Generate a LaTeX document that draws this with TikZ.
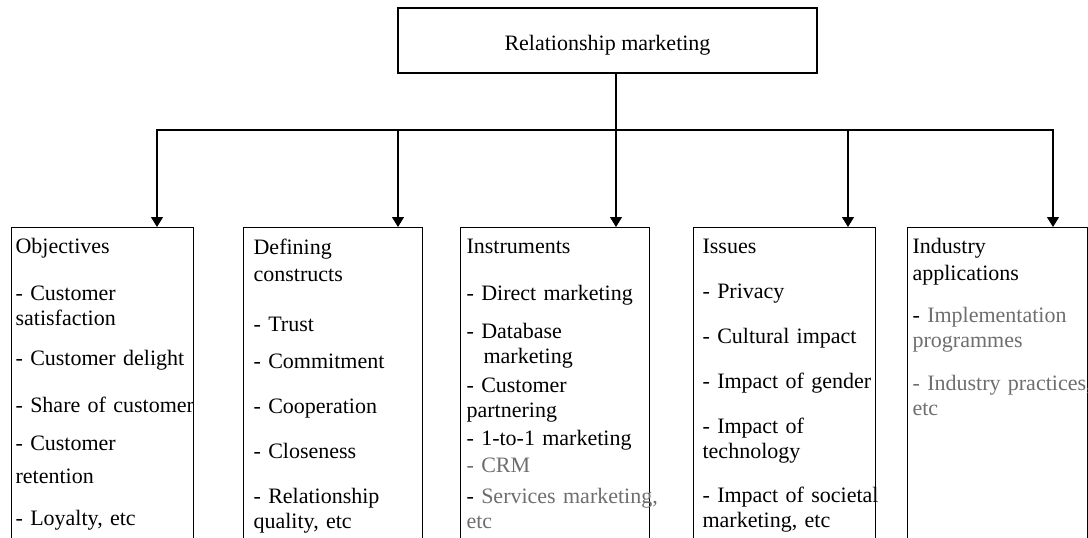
\documentclass[tikz,border=0pt]{standalone}
\usepackage{fontspec}
\setmainfont{Liberation Serif}
\usetikzlibrary{arrows.meta}
\definecolor{softgray}{RGB}{110,110,110}

\begin{document}
\begin{tikzpicture}[
		x=1pt, y=-1pt,
		line width=1.2pt,
		every node/.style={font=\fontsize{22}{25}\selectfont},
		relbox/.style={draw, rectangle, minimum width=419pt, minimum height=65pt,
			text height=19pt, text depth=0pt, inner sep=0pt},
		catbox/.style={draw, rectangle, anchor=north west, minimum height=340pt, inner sep=0pt},
		listtxt/.style={anchor=north west, align=left, text width=210pt, inner sep=0pt},
		arr/.style={-{Triangle[width=12pt, length=10pt]}}
	]
  \useasboundingbox (0,0) rectangle (1088,538);
  \clip (0,0) rectangle (1088,538);

  \node (rm) [relbox] at (607.5,40.5) {Relationship marketing};

  \node (obj) [catbox, minimum width=182pt] at (11,227) {};
  \node (def) [catbox, minimum width=179pt] at (243,227) {};
  \node (ins) [catbox, minimum width=189pt] at (460,227) {};
  \node (iss) [catbox, minimum width=182pt] at (693,227) {};
  \node (ind) [catbox, minimum width=180pt] at (907,227) {};

  \node (obj_txt) [listtxt] at (15,238) {Objectives\\[22pt] - Customer\\ satisfaction\\[15pt]
    - Customer delight\\[22pt] - Share of customer\\[13pt] - Customer\\[8pt] retention\\[17pt]
    - Loyalty, etc};
  \node (def_txt) [listtxt] at (253,238) {Defining\\[2pt] constructs\\[25pt] - Trust\\[12pt]
    - Commitment\\[20pt] - Cooperation\\[20pt] - Closeness\\[20pt] - Relationship\\ quality, etc};
  \node (ins_txt) [listtxt] at (466,238) {Instruments\\[22pt] - Direct marketing\\[13pt]
    - Database\\ \hspace*{17pt}marketing\\[4pt] - Customer\\ partnering\\[3pt]
    - 1-to-1 marketing\\[2pt] \textcolor{softgray}{- CRM}\\[6pt]
    - \textcolor{softgray}{Services marketing,}\\ \textcolor{softgray}{etc}};
  \node (iss_txt) [listtxt] at (702,238) {Issues\\[20pt] - Privacy\\[20pt] - Cultural impact\\[20pt]
    - Impact of gender\\[20pt] - Impact of\\ technology\\[19pt] - Impact of societal\\ marketing, etc};
  \node (ind_txt) [listtxt] at (912,238) {Industry\\[2pt] applications\\[17pt]
    - \textcolor{softgray}{Implementation}\\ \textcolor{softgray}{programmes}\\[18pt]
    \textcolor{softgray}{- Industry practices,}\\ \textcolor{softgray}{etc}};

  \foreach \n/\x in {1/157, 2/398, 3/616, 4/848, 5/1053}
    \coordinate (j\n) at (\x,130);

  \draw (rm.south -| j3) -- (j3);
  \draw [arr] (j3) -- (j1) -- (j1 |- obj.north);
  \draw [arr] (j3) -- (j5) -- (j5 |- ind.north);
  \foreach \n/\b in {2/def, 3/ins, 4/iss}
    \draw [arr] (j\n) -- (j\n |- \b.north);
\end{tikzpicture}
\end{document}
